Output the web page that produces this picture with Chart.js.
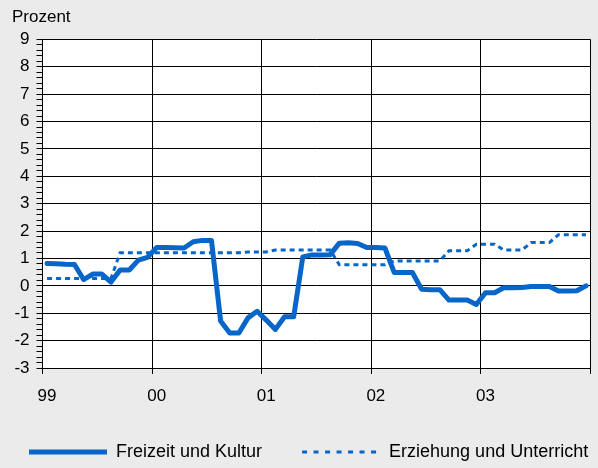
<!DOCTYPE html>
<html>
<head>
<meta charset="utf-8">
<script src="https://cdn.jsdelivr.net/npm/chart.js@4/dist/chart.umd.min.js"></script>
<style>
  html, body { margin: 0; padding: 0; background: #ebebeb; }
  #wrap { width: 598px; height: 468px; }
</style>
</head>
<body>
<div id="wrap"><canvas id="c" width="598" height="468"></canvas></div>
<script>
// ---- data ----
const yearLabels = ['99', '00', '01', '02', '03'];
const monthNames = ['01','02','03','04','05','06','07','08','09','10','11','12'];
const seriesNames = ['Freizeit und Kultur', 'Erziehung und Unterricht'];
const freizeitKultur = [
  0.82, 0.81, 0.79, 0.78, 0.23, 0.43, 0.43, 0.14, 0.58, 0.58, 0.94, 1.04,
  1.40, 1.40, 1.39, 1.38, 1.61, 1.66, 1.66, -1.28, -1.72, -1.72, -1.17, -0.93,
  -1.25, -1.59, -1.13, -1.13, 1.06, 1.13, 1.13, 1.14, 1.56, 1.57, 1.55, 1.40,
  1.40, 1.38, 0.49, 0.49, 0.49, -0.12, -0.14, -0.14, -0.52, -0.52, -0.52, -0.68,
  -0.25, -0.25, -0.07, -0.07, -0.06, -0.02, -0.02, -0.02, -0.19, -0.19, -0.18, 0.00
];
const erziehungUnterricht = [
  0.27, 0.27, 0.27, 0.27, 0.27, 0.27, 0.27, 0.27, 1.21, 1.21, 1.21, 1.21,
  1.21, 1.21, 1.21, 1.21, 1.21, 1.21, 1.21, 1.21, 1.21, 1.21, 1.24, 1.24,
  1.24, 1.31, 1.31, 1.31, 1.31, 1.31, 1.31, 1.31, 0.77, 0.77, 0.77, 0.77,
  0.77, 0.77, 0.91, 0.91, 0.91, 0.91, 0.91, 0.91, 1.28, 1.28, 1.28, 1.52,
  1.52, 1.52, 1.31, 1.31, 1.31, 1.58, 1.58, 1.58, 1.87, 1.87, 1.87, 1.87
];
const yMin = -3, yMax = 9, yMinorStep = 0.2;

// category labels (one per month)
const months = [];
yearLabels.forEach(y => monthNames.forEach(m => months.push(m + '/' + y)));

const BLUE = '#0766c8';
const LEGEND_GAP = 40;

Chart.defaults.font.family = "'Liberation Sans', Arial, sans-serif";
Chart.defaults.color = '#000';

const isInt = v => Math.abs(v - Math.round(v)) < 1e-6;

const bgPlugin = {
  id: 'bg',
  beforeDraw(chart) {
    const {ctx, chartArea: a} = chart;
    ctx.save();
    ctx.fillStyle = '#ebebeb';
    ctx.fillRect(0, 0, chart.width, chart.height);
    ctx.fillStyle = '#ffffff';
    ctx.fillRect(a.left, a.top, a.right - a.left, a.bottom - a.top);
    ctx.restore();
  },
  beforeDatasetsDraw(chart) {
    // right frame edge of the plot area with its tick mark
    const {ctx, chartArea: a} = chart;
    const x = Math.round(a.right) - 0.5;
    ctx.save();
    ctx.strokeStyle = '#000';
    ctx.lineWidth = 1;
    ctx.beginPath();
    ctx.moveTo(x, a.top);
    ctx.lineTo(x, a.bottom + 6);
    ctx.stroke();
    ctx.restore();
  }
};

const legendPlace = {
  id: 'legendPlace',
  afterLayout(chart) {
    const lg = chart.legend;
    lg.left = 29 - LEGEND_GAP;
    lg.right = 3000;
  }
};

new Chart(document.getElementById('c'), {
  type: 'line',
  data: {
    labels: months,
    datasets: [
      {
        label: seriesNames[0],
        data: freizeitKultur,
        borderColor: BLUE,
        backgroundColor: BLUE,
        borderWidth: 5,
        borderCapStyle: 'round',
        borderJoinStyle: 'round',
        pointRadius: 0,
        tension: 0,
        fill: false
      },
      {
        label: seriesNames[1],
        data: erziehungUnterricht,
        borderColor: BLUE,
        backgroundColor: BLUE,
        borderWidth: 3,
        borderDash: [5, 4],
        pointRadius: 0,
        tension: 0,
        fill: false
      }
    ]
  },
  options: {
    responsive: false,
    animation: false,
    devicePixelRatio: 1,
    layout: { padding: { left: 12, right: 7, top: 0, bottom: 0 } },
    plugins: {
      tooltip: { enabled: false },
      title: {
        display: true,
        text: 'Prozent',
        align: 'start',
        color: '#000',
        font: { size: 17, weight: 'normal' },
        padding: { top: 7, bottom: 12 }
      },
      legend: {
        position: 'bottom',
        align: 'start',
        maxHeight: 65,
        labels: {
          color: '#000',
          font: { size: 18 },
          usePointStyle: true,
          pointStyle: 'line',
          pointStyleWidth: 78,
          padding: LEGEND_GAP,
          generateLabels(chart) {
            const items = Chart.defaults.plugins.legend.labels.generateLabels(chart);
            items.forEach(it => { it.pointStyle = 'line'; });
            if (items[1]) items[1].lineDash = [5, 6.5];
            return items;
          }
        }
      }
    },
    scales: {
      x: {
        type: 'category',
        offset: true,
        afterFit(scale) { scale.height = 35; },
        grid: {
          offset: true,
          drawOnChartArea: true,
          color: c => (c.index % 12 === 0 && c.index < 60 ? '#000' : 'rgba(0,0,0,0)'),
          tickColor: c => (c.index % 12 === 0 && c.index < 60 ? '#000' : 'rgba(0,0,0,0)'),
          tickLength: 6,
          lineWidth: 1
        },
        border: { color: '#000', width: 1 },
        ticks: {
          autoSkip: false,
          maxRotation: 0,
          minRotation: 0,
          padding: 12,
          font: { size: 17 },
          color: '#000',
          callback: (v, i) => (i % 12 === 0 ? yearLabels[i / 12] : '')
        }
      },
      y: {
        min: yMin,
        max: yMax,
        afterFit(scale) { scale.width = 30.5; },
        grid: {
          color: c => (c.tick && isInt(c.tick.value) ? '#000' : 'rgba(0,0,0,0)'),
          tickColor: '#000',
          tickLength: 6,
          lineWidth: 1
        },
        border: { color: '#000', width: 1 },
        ticks: {
          stepSize: yMinorStep,
          autoSkip: false,
          padding: 7,
          font: { size: 17 },
          color: '#000',
          callback: v => (isInt(v) ? String(Math.round(v)) : '')
        }
      }
    }
  },
  plugins: [bgPlugin, legendPlace]
});
</script>
</body>
</html>
